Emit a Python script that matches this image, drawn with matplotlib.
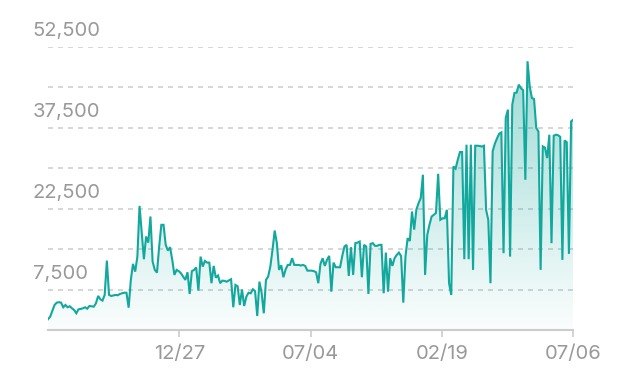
import matplotlib
matplotlib.use("Agg")
import matplotlib.pyplot as plt
import numpy as np
from matplotlib.patches import PathPatch
from matplotlib.path import Path

values = [
    2000, 2470, 3580, 4640, 5070, 5150, 5070, 4210, 4640, 4210,
    4400, 4020, 3700, 3100, 3840, 3900, 4020, 4210, 3950, 4450,
    4400, 4330, 4950, 6310, 5700, 5450, 6500, 12860, 6500, 6310,
    6400, 6500, 6440, 6680, 6800, 6920, 6900, 4140, 9280, 12250,
    10820, 13600, 23000, 17950, 13120, 17320, 16200, 21030, 12680, 11140,
    10630, 15460, 19490, 19490, 15780, 14720, 15350, 12990, 10210, 11140,
    10900, 10520, 9900, 9280, 10700, 6680, 10900, 11140, 11600, 7300,
    13600, 11750, 12800, 12490, 12490, 8670, 11880, 9700, 10100, 8670,
    9150, 9100, 8950, 9200, 9410, 4210, 8350, 8100, 4640, 7500,
    4450, 6180, 6900, 6800, 7550, 7200, 2600, 8960, 6900, 3100,
    9280, 9900, 11750, 14850, 18430, 16090, 11140, 12000, 9780, 11200,
    12060, 12060, 13300, 12060, 12060, 12060, 11950, 12060, 11880, 11000,
    11000, 11000, 10900, 10700, 8670, 12250, 13300, 11880, 13000, 13730,
    7110, 12490, 11630, 11630, 11630, 13730, 15460, 15780, 10020, 15350,
    10210, 16090, 16200, 16390, 9780, 15780, 15460, 6680, 15960, 16090,
    15600, 15590, 15780, 15780, 6810, 14350, 7110, 13300, 11880, 13300,
    13920, 14350, 13700, 5070, 13600, 17020, 16500, 21960, 18600, 22300,
    23500, 24440, 28770, 10210, 17630, 19490, 21030, 21340, 21700, 28950,
    20420, 20700, 20700, 22270, 8670, 6500, 30310, 29900, 31550, 32980,
    32980, 13120, 34340, 13120, 34340, 11140, 34150, 34150, 34100, 34000,
    34150, 22270, 20400, 8670, 33110, 34520, 35500, 36380, 36620, 14230,
    39280, 40830, 13600, 41760, 43930, 44000, 45470, 44800, 44420, 27840,
    49800, 45160, 43000, 42800, 37430, 36800, 11140, 34020, 33800, 31860,
    36190, 16090, 36000, 36190, 36100, 35800, 12990, 35130, 34800, 14100,
    38660, 38980,
]

tick_labels = ["12/27", "07/04", "02/19", "07/06"]
y_grid = [0, 7500, 15000, 22500, 30000, 37500, 45000, 52500]
y_labeled = [7500, 22500, 37500, 52500]

line_color = "#12a89d"
text_color = "#999999"

fig = plt.figure(figsize=(6.24, 3.92), dpi=100)
W, H = 624, 392
ax = fig.add_axes([48 / W, (H - 330) / H, (573.3 - 48) / W, (330 - 46.7) / H])

n = len(values)
x = np.arange(n)
y = np.array(values, dtype=float)
ymax = 52500
ax.set_xlim(0, n - 1)
ax.set_ylim(0, ymax)

# gridlines
for g in y_grid[1:]:
    ax.axhline(g, color="#cfcfcf", lw=1.2, ls=(0, (3, 3)), zorder=1)

# gradient fill under curve
grad = np.linspace(0, 1, 256).reshape(-1, 1)
rgb = np.array([18, 168, 157]) / 255.0
img = np.zeros((256, 1, 4))
img[..., :3] = rgb
img[..., 3] = 0.02 + 0.42 * grad[:, 0:1]
im = ax.imshow(img, extent=[0, n - 1, 0, ymax], origin="lower",
               aspect="auto", zorder=2, interpolation="bilinear")
verts = [(0, 0)] + list(zip(x, y)) + [(n - 1, 0), (0, 0)]
codes = [Path.MOVETO] + [Path.LINETO] * (len(verts) - 2) + [Path.CLOSEPOLY]
patch = PathPatch(Path(verts, codes), facecolor="none", edgecolor="none")
ax.add_patch(patch)
im.set_clip_path(patch)

ax.plot(x, y, color=line_color, lw=1.5, zorder=3, solid_joinstyle="miter")

# axes styling
for s in ["top", "right", "left"]:
    ax.spines[s].set_visible(False)
ax.spines["bottom"].set_color("#cccccc")
ax.spines["bottom"].set_linewidth(1.5)
ax.set_yticks([])
tick_pos = [(n - 1) * k / 4 for k in range(1, 5)]
ax.set_xticks(tick_pos)
ax.set_xticklabels(tick_labels)
ax.tick_params(axis="x", length=5, width=1.2, color="#cccccc",
               labelcolor=text_color, labelsize=14.5, pad=6)
for lbl in ax.get_xticklabels():
    lbl.set_fontfamily("Inter")

for v in y_labeled:
    ax.annotate(f"{v:,}", xy=(0, v), xycoords=("axes fraction", "data"),
                xytext=(-11, 5), textcoords="offset points",
                ha="left", va="bottom", color=text_color, fontsize=14.5,
                family="Inter", annotation_clip=False)

fig.savefig("out.png", dpi=100)
